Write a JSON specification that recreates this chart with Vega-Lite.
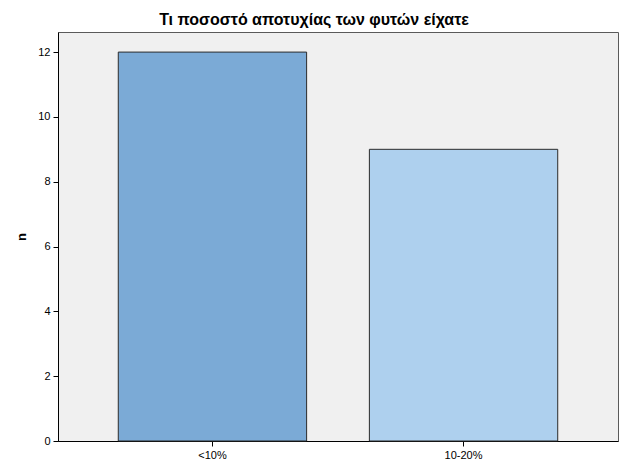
{
  "$schema": "https://vega.github.io/schema/vega-lite/v6.json",
  "autosize": "none",
  "padding": {"left": 58, "top": 32, "right": 7, "bottom": 29},
  "width": 560,
  "height": 409,
  "background": "white",
  "config": {
    "font": "Liberation Sans",
    "view": {"fill": "#f0f0f0", "stroke": "#5a5a5a", "strokeWidth": 1}
  },
  "title": {
    "text": "Τι ποσοστό αποτυχίας των φυτών είχατε",
    "font": "Liberation Sans",
    "fontSize": 16,
    "fontWeight": "bold",
    "color": "#000000",
    "anchor": "middle",
    "dx": -24,
    "offset": 4
  },
  "data": {
    "values": [
      {"category": "<10%", "n": 12},
      {"category": "10-20%", "n": 9}
    ]
  },
  "mark": {"type": "bar", "stroke": "#2b2b2b", "strokeWidth": 1},
  "encoding": {
    "x": {
      "field": "category",
      "type": "nominal",
      "sort": ["<10%", "10-20%"],
      "scale": {"paddingInner": 0.25, "paddingOuter": 0.24},
      "axis": {
        "title": null,
        "labelAngle": 0,
        "labelFontSize": 11,
        "labelColor": "#000000",
        "labelPadding": 3,
        "tickColor": "#000000",
        "tickSize": 5,
        "domainColor": "#000000",
        "domainWidth": 1
      }
    },
    "y": {
      "field": "n",
      "type": "quantitative",
      "scale": {"domain": [0, 12.62], "nice": false},
      "axis": {
        "title": "n",
        "titleFontSize": 13,
        "titleFontWeight": "bold",
        "titleColor": "#000000",
        "titleX": -30,
        "values": [0, 2, 4, 6, 8, 10, 12],
        "grid": false,
        "labelFontSize": 11,
        "labelColor": "#000000",
        "labelPadding": 3,
        "tickColor": "#000000",
        "tickSize": 5,
        "domainColor": "#000000",
        "domainWidth": 1
      }
    },
    "color": {
      "field": "category",
      "type": "nominal",
      "sort": ["<10%", "10-20%"],
      "scale": {"range": ["#7baad6", "#aed0ee"]},
      "legend": null
    }
  }
}
